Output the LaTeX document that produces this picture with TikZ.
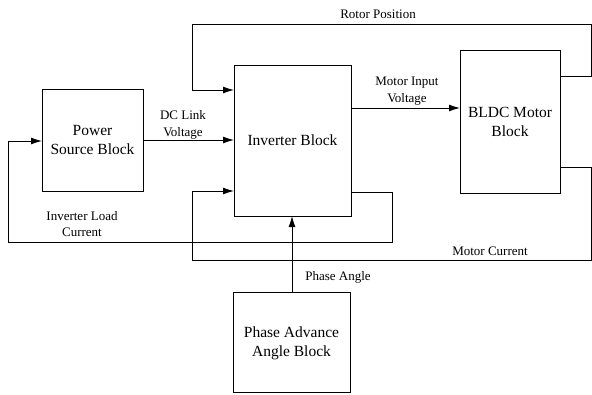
\documentclass[tikz,border=0pt]{standalone}
\usepackage{fontspec}
\setmainfont{Liberation Serif}
\usetikzlibrary{arrows.meta}
\begin{document}
\begin{tikzpicture}[x=1pt,y=-1pt,
  blk/.style={draw,line width=0.9pt,inner sep=0pt},
  btext/.style={font=\fontsize{15.5}{19}\selectfont,align=center},
  ltext/.style={font=\fontsize{13}{16.5}\selectfont,align=center},
  ln/.style={line width=0.9pt},
  arr/.style={ln,-{Latex[length=11pt,width=7pt]}}]
\useasboundingbox (0,0) rectangle (592,394);
% blocks
\draw[blk] (42,89) rectangle (143,191);
\node[btext] (ps) at (92.5,140) {Power\\Source Block};
\coordinate (psL) at (42,141);
\coordinate (psR) at (143,140);
\draw[blk] (234,65) rectangle (351,216);
\node[btext] (inv) at (292.5,140) {Inverter Block};
\draw[blk] (460,50) rectangle (560,193);
\node[btext] (bldc) at (510,122) {BLDC Motor\\Block};
\draw[blk] (233,292) rectangle (350,392);
\node[btext] (pa) at (291.5,343) {Phase Advance\\Angle Block};
% named coordinates
\coordinate (invL1) at (234,90);
\coordinate (invL2) at (234,140);
\coordinate (invL3) at (234,191);
\coordinate (invR1) at (351,108);
\coordinate (invR2) at (351,192);
\coordinate (invB) at (292,216);
\coordinate (paT) at (292,292);
\coordinate (bldcL) at (460,108);
\coordinate (bldcR1) at (560,76);
\coordinate (bldcR2) at (560,167);
% connectors
\draw[arr] (psR) -- (invL2);
\draw[arr] (invR1) -- (bldcL);
\draw[arr] (paT) -- (invB);
\draw[arr] (bldcR1) -- (591,76) -- (591,24) -- (192,24) -- (192,90) -- (invL1);
\draw[arr] (bldcR2) -- (591,167) -- (591,260) -- (192,260) -- (192,191) -- (invL3);
\draw[arr] (invR2) -- (392,192) -- (392,242) -- (8,242) -- (8,141) -- (psL);
% labels
\node[ltext] (lrp) at (378,14) {Rotor Position};
\node[ltext] (ldc) at (183,125) {DC Link\\Voltage};
\node[ltext] (lmi) at (407,91) {Motor Input\\Voltage};
\node[ltext] (lil) at (82,224) {Inverter Load\\Current};
\node[ltext] (lmc) at (490,251) {Motor Current};
\node[ltext] (lpa) at (338,277) {Phase Angle};
\end{tikzpicture}
\end{document}
